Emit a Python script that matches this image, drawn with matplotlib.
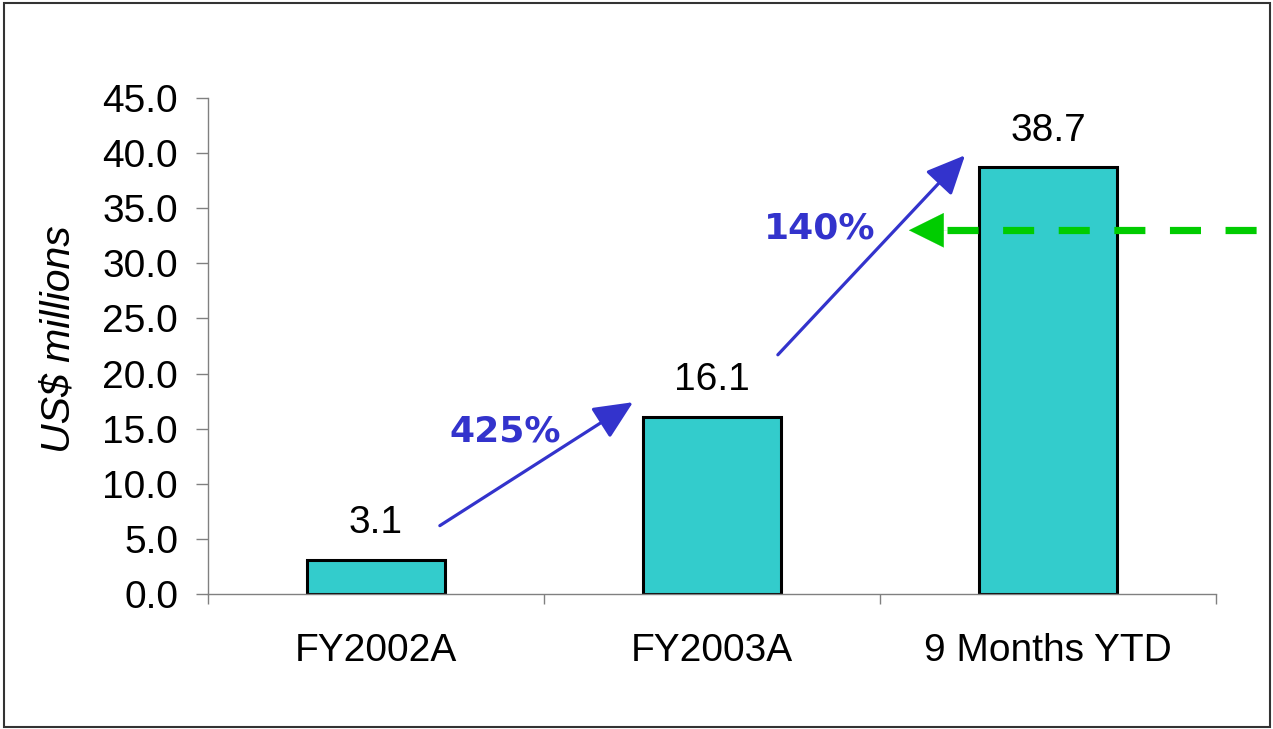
import matplotlib

matplotlib.use("Agg")
import matplotlib.pyplot as plt
from matplotlib.patches import Rectangle

categories = ["FY2002A", "FY2003A", "9 Months YTD"]
values = [3.1, 16.1, 38.7]
value_labels = ["3.1", "16.1", "38.7"]
growth_labels = ["425%", "140%"]
yticks = [0, 5, 10, 15, 20, 25, 30, 35, 40, 45]

BAR = "#33CCCC"
BLUE = "#3333CC"
GREEN = "#00CC00"
AXIS = "#808080"

plt.rcParams["font.family"] = ["Liberation Sans", "DejaVu Sans"]

fig = plt.figure(figsize=(12.73, 7.29), dpi=100)
ax = fig.add_axes([0.1634, 0.1852, 0.7918, 0.6804])

x = list(range(len(categories)))
ax.bar(x, values, width=0.41, color=BAR, edgecolor="black", linewidth=2.2, zorder=2)

for xi, v, lab in zip(x, values, value_labels):
    ax.annotate(lab, (xi, v), xytext=(0, 19), textcoords="offset points",
                ha="center", va="baseline", fontsize=28)

ax.set_xlim(-0.5, 2.5)
ax.set_ylim(0, 45)
ax.set_yticks(yticks)
ax.set_yticklabels([f"{t:.1f}" for t in yticks], fontsize=28)
ax.tick_params(axis="y", direction="out", length=8.6, width=1, color=AXIS, pad=13)

# category boundaries get the tick marks, centres get the labels
ax.set_xticks([-0.5, 0.5, 1.5, 2.5])
ax.set_xticklabels([])
ax.tick_params(axis="x", which="major", direction="out", length=7, width=1, color=AXIS)
ax.set_xticks(x, minor=True)
ax.set_xticklabels(categories, minor=True, fontsize=28)
ax.tick_params(axis="x", which="minor", length=0, pad=28)

for s in ("top", "right"):
    ax.spines[s].set_visible(False)
for s in ("left", "bottom"):
    ax.spines[s].set_color(AXIS)
    ax.spines[s].set_linewidth(1)

# growth arrows
blue_arrow = dict(arrowstyle="-|>,head_length=1.2,head_width=0.55", mutation_scale=20,
                  color=BLUE, lw=2.3, shrinkA=0, shrinkB=0)
ax.annotate("", xy=(0.765, 17.4), xytext=(0.19, 6.2), arrowprops=blue_arrow, zorder=3)
ax.annotate("", xy=(1.753, 39.8), xytext=(1.196, 21.7), arrowprops=blue_arrow, zorder=3)
ax.text(0.384, 14.7, growth_labels[0], color=BLUE, fontsize=26, fontweight="bold",
        family="DejaVu Sans", ha="center", va="center")
ax.text(1.321, 33.2, growth_labels[1], color=BLUE, fontsize=26, fontweight="bold",
        family="DejaVu Sans", ha="center", va="center")

# green dashed pointer
ax.plot([1.70, 2.63], [33.0, 33.0], color=GREEN, lw=5.2, dashes=(4.3, 3.4),
        clip_on=False, zorder=4, solid_capstyle="butt", dash_capstyle="butt")
ax.annotate("", xy=(1.586, 33.0), xytext=(1.70, 33.0),
            arrowprops=dict(arrowstyle="-|>,head_length=1.25,head_width=0.62",
                            mutation_scale=20, color=GREEN, lw=0.1,
                            shrinkA=0, shrinkB=0), zorder=4)

fig.text(59 / 1273, 1 - 339 / 729, "US$ millions", rotation=90, fontsize=29.5,
         style="italic", ha="center", va="center")

fig.patches.append(Rectangle((4 / 1273, 2 / 729), 1266 / 1273, 724 / 729,
                             transform=fig.transFigure, fill=False,
                             edgecolor="#333333", linewidth=1.5))

fig.savefig("out.png", dpi=100)
